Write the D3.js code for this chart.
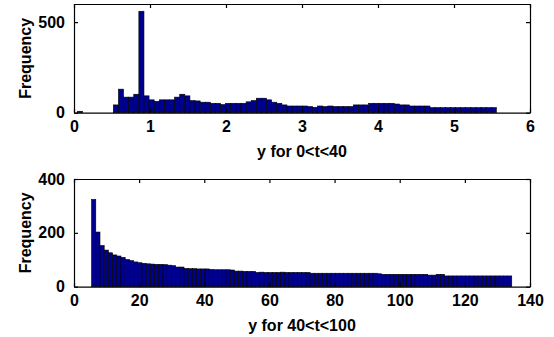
<!DOCTYPE html>
<html>
<head>
<meta charset="utf-8">
<script src="https://cdn.jsdelivr.net/npm/d3@7"></script>
<style>
  body { margin: 0; background: #fff; }
  svg { display: block; font-family: "Liberation Sans", Arial, sans-serif; }
  .axis text { font-size: 16px; font-weight: bold; fill: #000; }
  .axis path, .axis line { stroke: #000; stroke-width: 1.2; }
  .label { font-size: 16px; font-weight: bold; fill: #000; }
</style>
</head>
<body>
<div id="chart"></div>
<script>
// top panel: histogram of y for 0<t<40
const topBinStart = 0.047;
const topBinWidth = 0.0672;
const topCounts = [
  8, 0, 0, 0, 0, 0, 0, 43, 130, 86,
  86, 102, 560, 93, 71, 63, 71, 71, 71, 86,
  102, 93, 67, 65, 58, 58, 52, 52, 45, 52,
  52, 52, 52, 60, 67, 80, 80, 71, 58, 52,
  43, 37, 37, 37, 37, 34, 30, 37, 34, 37,
  34, 34, 34, 34, 43, 43, 43, 52, 52, 52,
  52, 52, 48, 43, 43, 37, 37, 37, 37, 28,
  28, 28, 28, 28, 28, 28, 28, 28, 28, 28,
  28, 28
];
const topXTicks = [0, 1, 2, 3, 4, 5, 6];
const topYTicks = [0, 500];

// bottom panel: histogram of y for 40<t<100
const bottomBinStart = 5.4;
const bottomBinWidth = 1.29;
const bottomCounts = [
  324, 203, 153, 136, 126, 118, 114, 109, 101, 97,
  92, 89, 87, 85, 84, 83, 83, 82, 80, 78,
  73, 73, 68, 67, 67, 66, 66, 66, 64, 63,
  63, 63, 63, 62, 58, 58, 57, 57, 57, 53,
  54, 53, 53, 53, 53, 54, 53, 53, 53, 53,
  53, 53, 50, 50, 50, 50, 50, 50, 50, 50,
  50, 50, 50, 50, 50, 50, 50, 50, 48, 46,
  46, 46, 46, 46, 46, 46, 46, 46, 46, 46,
  43, 43, 46, 46, 40, 40, 40, 40, 40, 40,
  40, 40, 40, 40, 40, 40, 40, 40, 40, 40
];
const bottomXTicks = [0, 20, 40, 60, 80, 100, 120, 140];
const bottomYTicks = [0, 200, 400];

const width = 554, height = 337;
const barFill = "#00008f";

const svg = d3.select("#chart").append("svg")
  .attr("width", width)
  .attr("height", height);

svg.append("rect").attr("width", width).attr("height", height).attr("fill", "#fff");

function drawPanel(opts) {
  const { left, right, top, bottom, xDomain, yDomain, xTicks, yTicks,
          binStart, binWidth, counts, xLabel } = opts;

  const x = d3.scaleLinear().domain(xDomain).range([left, right]);
  const y = d3.scaleLinear().domain(yDomain).range([bottom, top]);
  const g = svg.append("g");

  const bins = counts.map((c, i) => ({ x0: binStart + i * binWidth, x1: binStart + (i + 1) * binWidth, count: c }));

  g.append("g").selectAll("rect")
    .data(bins.filter(d => d.count > 0))
    .join("rect")
    .attr("x", d => x(d.x0))
    .attr("width", d => x(d.x1) - x(d.x0))
    .attr("y", d => y(d.count))
    .attr("height", d => y(0) - y(d.count))
    .attr("fill", barFill)
    .attr("stroke", "#000")
    .attr("stroke-width", 0.6);

  // box with inward ticks on all four sides
  g.append("g").attr("class", "axis")
    .attr("transform", `translate(0,${bottom})`)
    .call(d3.axisBottom(x).tickValues(xTicks).tickFormat(d3.format("d")).tickSize(-4).tickSizeOuter(0).tickPadding(8));
  g.append("g").attr("class", "axis")
    .attr("transform", `translate(0,${top})`)
    .call(d3.axisTop(x).tickValues(xTicks).tickFormat("").tickSize(-4).tickSizeOuter(0));
  g.append("g").attr("class", "axis")
    .attr("transform", `translate(${left},0)`)
    .call(d3.axisLeft(y).tickValues(yTicks).tickFormat(d3.format("d")).tickSize(-4).tickSizeOuter(0).tickPadding(9));
  g.append("g").attr("class", "axis")
    .attr("transform", `translate(${right},0)`)
    .call(d3.axisRight(y).tickValues(yTicks).tickFormat("").tickSize(-4).tickSizeOuter(0));

  g.selectAll(".axis text").attr("font-family", null).attr("font-size", null);

  g.append("text")
    .attr("class", "label")
    .attr("x", (left + right) / 2)
    .attr("y", bottom + 39)
    .attr("dy", "0.35em")
    .attr("text-anchor", "middle")
    .text(xLabel);

  g.append("text")
    .attr("class", "label")
    .attr("transform", `translate(25,${(top + bottom) / 2}) rotate(-90)`)
    .attr("dy", "0.35em")
    .attr("text-anchor", "middle")
    .text("Frequency");
}

drawPanel({
  left: 74, right: 530, top: 4, bottom: 112.7,
  xDomain: [0, 6], yDomain: [0, 600],
  xTicks: topXTicks, yTicks: topYTicks,
  binStart: topBinStart, binWidth: topBinWidth, counts: topCounts,
  xLabel: "y for 0<t<40"
});

drawPanel({
  left: 74, right: 530, top: 179, bottom: 286.7,
  xDomain: [0, 140], yDomain: [0, 400],
  xTicks: bottomXTicks, yTicks: bottomYTicks,
  binStart: bottomBinStart, binWidth: bottomBinWidth, counts: bottomCounts,
  xLabel: "y for 40<t<100"
});
</script>
</body>
</html>
